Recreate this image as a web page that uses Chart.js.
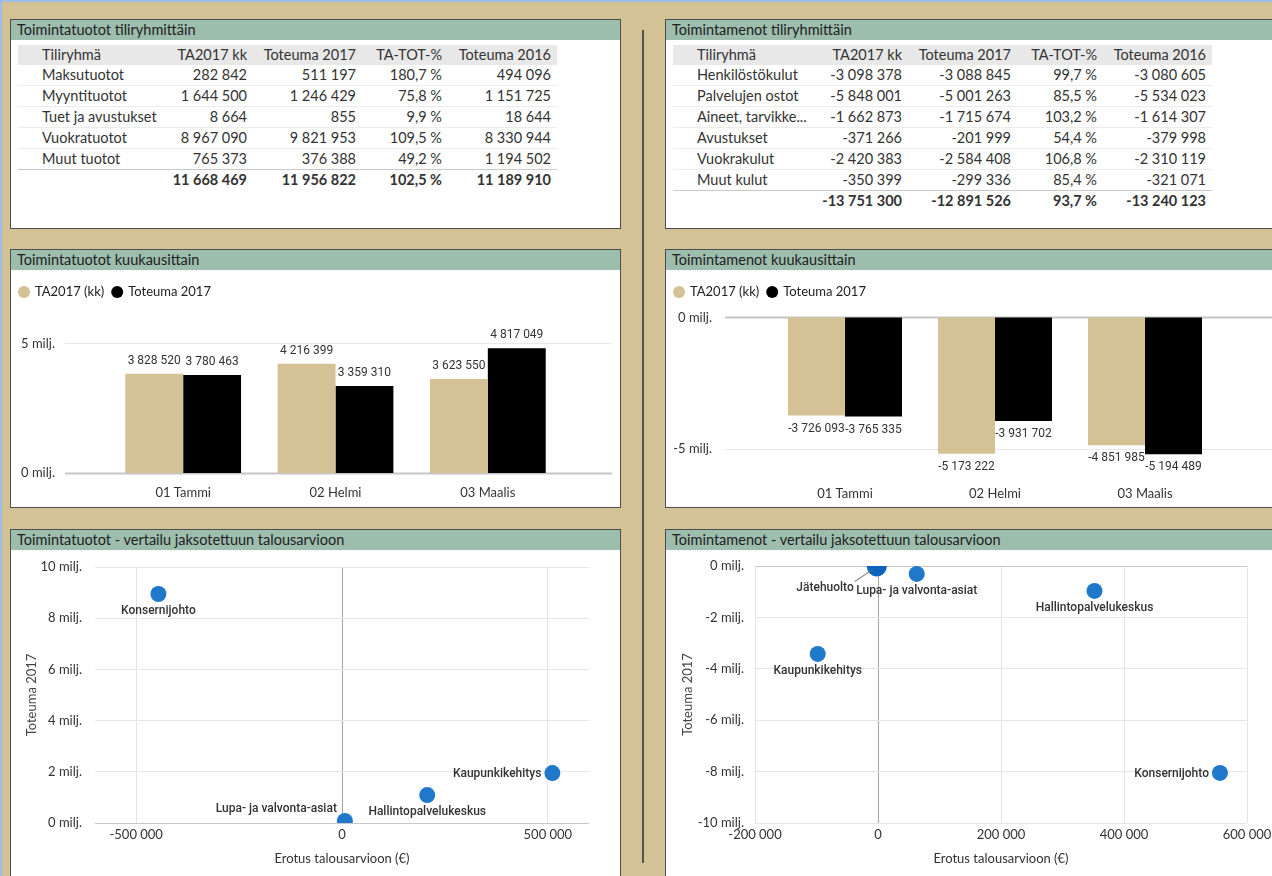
<!DOCTYPE html>
<html lang="fi">
<head>
<meta charset="utf-8">
<title>Toimintatuotot ja -menot</title>
<script src="https://cdn.jsdelivr.net/npm/chart.js@4.4.1/dist/chart.umd.min.js"></script>
<style>
  body { margin: 0; width: 1272px; height: 876px; overflow: hidden; position: relative;
         background: #d4c297; font-family: Lato, "Segoe UI", sans-serif; color: #333; }
  .topline { position: absolute; left: 0; top: 0; width: 1272px; height: 2px; background: #9cbfea; }
  .leftline { position: absolute; left: 0; top: 0; width: 2px; height: 876px; background: #9cbfea; }
  .divider { position: absolute; left: 642px; top: 30px; width: 2px; height: 833px; background: #5b534a; }
  .panel { position: absolute; background: #fff; border: 1px solid #4e4e4e; box-sizing: border-box; }
  .panel .title { height: 20px; line-height: 20px; background: #9dbdad; padding-left: 6px;
                  font-size: 14.5px; color: #222; white-space: nowrap; }
  .panel table { position: absolute; left: 7px; top: 25px; width: 539px; table-layout: fixed;
                 border-collapse: collapse; font-size: 14.5px; }
  .panel td, .panel th { height: 20px; line-height: 20px; padding: 0 6px; white-space: nowrap;
                         overflow: hidden; text-align: right; font-weight: normal; }
  .panel td:first-child, .panel th:first-child { text-align: left; padding-left: 24px; }
  .panel thead tr { background: #e8e8e8; }
  .panel tbody tr { border-bottom: 1px solid #ececec; }
  .panel tbody tr.last { border-bottom: 1px solid #c9c9c9; }
  .panel tfoot td { font-weight: bold; }
  canvas { position: absolute; }
</style>
</head>
<body>
<div class="topline"></div>
<div class="leftline"></div>
<div class="divider"></div>

<div class="panel" style="left:10px; top:19px; width:611px; height:210px;">
  <div class="title">Toimintatuotot tiliryhmittäin</div>
  <table id="tuototTaulu"></table>
</div>
<div class="panel" style="left:665px; top:19px; width:640px; height:210px;">
  <div class="title">Toimintamenot tiliryhmittäin</div>
  <table id="menotTaulu"></table>
</div>
<div class="panel" style="left:10px; top:249px; width:611px; height:259px;">
  <div class="title">Toimintatuotot kuukausittain</div>
</div>
<div class="panel" style="left:665px; top:249px; width:640px; height:259px;">
  <div class="title">Toimintamenot kuukausittain</div>
</div>
<div class="panel" style="left:10px; top:529px; width:611px; height:400px;">
  <div class="title">Toimintatuotot - vertailu jaksotettuun talousarvioon</div>
</div>
<div class="panel" style="left:665px; top:529px; width:640px; height:400px;">
  <div class="title">Toimintamenot - vertailu jaksotettuun talousarvioon</div>
</div>

<canvas id="tuototKk" width="610" height="237" style="left:11px; top:271px;"></canvas>
<canvas id="menotKk" width="606" height="237" style="left:666px; top:271px;"></canvas>
<canvas id="tuototVertailu" width="610" height="325" style="left:11px; top:551px;"></canvas>
<canvas id="menotVertailu" width="606" height="325" style="left:666px; top:551px;"></canvas>

<script>
// Tiliryhmät (taulukot)
const tuototRyhmat = ['Maksutuotot', 'Myyntituotot', 'Tuet ja avustukset', 'Vuokratuotot', 'Muut tuotot'];
const tuototTA = [282842, 1644500, 8664, 8967090, 765373];
const tuototTot17 = [511197, 1246429, 855, 9821953, 376388];
const tuototPros = [180.7, 75.8, 9.9, 109.5, 49.2];
const tuototTot16 = [494096, 1151725, 18644, 8330944, 1194502];
const tuototYht = [11668469, 11956822, 102.5, 11189910];

const menotRyhmat = ['Henkilöstökulut', 'Palvelujen ostot', 'Aineet, tarvikke...', 'Avustukset', 'Vuokrakulut', 'Muut kulut'];
const menotTA = [-3098378, -5848001, -1662873, -371266, -2420383, -350399];
const menotTot17 = [-3088845, -5001263, -1715674, -201999, -2584408, -299336];
const menotPros = [99.7, 85.5, 103.2, 54.4, 106.8, 85.4];
const menotTot16 = [-3080605, -5534023, -1614307, -379998, -2310119, -321071];
const menotYht = [-13751300, -12891526, 93.7, -13240123];

const sarakkeet = ['Tiliryhmä', 'TA2017 kk', 'Toteuma 2017', 'TA-TOT-%', 'Toteuma 2016'];

// Kuukausittain
const kuukaudet = ['01 Tammi', '02 Helmi', '03 Maalis'];
const tuototKkTA = [3828520, 4216399, 3623550];
const tuototKkTot = [3780463, 3359310, 4817049];
const menotKkTA = [-3726093, -5173222, -4851985];
const menotKkTot = [-3765335, -3931702, -5194489];
const tuototKkTicks = [0, 5000000];
const menotKkTicks = [0, -5000000];

// Vertailu jaksotettuun talousarvioon
const tuototYksikot = ['Konsernijohto', 'Kaupunkikehitys', 'Hallintopalvelukeskus', 'Lupa- ja valvonta-asiat'];
const tuototErotus = [-446000, 511000, 207000, 7000];
const tuototToteuma = [8945000, 1950000, 1090000, 80000];
const menotYksikot = ['Jätehuolto', 'Lupa- ja valvonta-asiat', 'Hallintopalvelukeskus', 'Kaupunkikehitys', 'Konsernijohto'];
const menotErotus = [-2000, 63000, 352000, -98000, 556000];
const menotToteuma = [-20000, -310000, -970000, -3420000, -8050000];
const tuototXTicks = [-500000, 0, 500000];
const tuototYTicks = [0, 2000000, 4000000, 6000000, 8000000, 10000000];
const menotXTicks = [-200000, 0, 200000, 400000, 600000];
const menotYTicks = [-10000000, -8000000, -6000000, -4000000, -2000000, 0];

function fmt(v) {
    const s = Math.abs(Math.round(v)).toString().replace(/\B(?=(\d{3})+(?!\d))/g, ' ');
    return (v < 0 ? '-' : '') + s;
}
function fmtPct(v) {
    return v.toFixed(1).replace('.', ',') + ' %';
}
function milj(v) {
    return Math.round(v / 1e6) + ' milj.';
}

// Build the tables
function buildTable(id, ryhmat, ta, tot17, pros, tot16, yht) {
    let html = '<colgroup><col style="width:142px"><col style="width:93px"><col style="width:109px">' +
               '<col style="width:86px"><col style="width:109px"></colgroup>';
    html += '<thead><tr>' + sarakkeet.map(s => `<th>${s}</th>`).join('') + '</tr></thead><tbody>';
    ryhmat.forEach((r, i) => {
        const cls = i === ryhmat.length - 1 ? ' class="last"' : '';
        html += `<tr${cls}><td>${r}</td><td>${fmt(ta[i])}</td><td>${fmt(tot17[i])}</td>` +
                `<td>${fmtPct(pros[i])}</td><td>${fmt(tot16[i])}</td></tr>`;
    });
    html += '</tbody><tfoot><tr><td></td>' +
            `<td>${fmt(yht[0])}</td><td>${fmt(yht[1])}</td><td>${fmtPct(yht[2])}</td><td>${fmt(yht[3])}</td>` +
            '</tr></tfoot>';
    document.getElementById(id).innerHTML = html;
}
buildTable('tuototTaulu', tuototRyhmat, tuototTA, tuototTot17, tuototPros, tuototTot16, tuototYht);
buildTable('menotTaulu', menotRyhmat, menotTA, menotTot17, menotPros, menotTot16, menotYht);

Chart.defaults.font.family = 'Lato, "Segoe UI", sans-serif';
Chart.defaults.font.size = 13;
Chart.defaults.color = '#333';
Chart.defaults.animation = false;

// fixed axis box sizes; drop the label padding chart.js adds at the ends
function fixY(width) {
    return s => { s.width = width; s.paddingTop = 0; s.paddingBottom = 0; };
}
function fixX(height) {
    return s => { s.height = height; s.paddingLeft = 0; s.paddingRight = 0; };
}

// Horizontal gridlines that run wider than the bar area
const wideGrid = {
    id: 'wideGrid',
    beforeDatasetsDraw(chart, args, opts) {
        const y = chart.scales.y;
        const ctx = chart.ctx;
        ctx.save();
        y.ticks.forEach(t => {
            const py = Math.round(y.getPixelForValue(t.value)) + 0.5;
            ctx.strokeStyle = t.value === 0 ? '#c6c6c6' : '#e8e8e8';
            ctx.lineWidth = t.value === 0 ? 2 : 1;
            ctx.beginPath();
            ctx.moveTo(opts.from, py);
            ctx.lineTo(opts.to, py);
            ctx.stroke();
        });
        ctx.restore();
    }
};

// Value labels above / below bars
const barValues = {
    id: 'barValues',
    afterDatasetsDraw(chart) {
        const ctx = chart.ctx;
        ctx.save();
        ctx.font = '12px Roboto';
        ctx.fillStyle = '#333';
        ctx.textAlign = 'center';
        ctx.textBaseline = 'middle';
        chart.data.datasets.forEach((ds, i) => {
            chart.getDatasetMeta(i).data.forEach((bar, j) => {
                const v = ds.data[j];
                ctx.fillText(fmt(v), bar.x, v >= 0 ? bar.y - 13 : bar.y + 13);
            });
        });
        ctx.restore();
    }
};

function barChart(id, ta, tot, ticks, yMin, yMax, cfg) {
    return new Chart(document.getElementById(id), {
        type: 'bar',
        data: {
            labels: kuukaudet,
            datasets: [
                { label: 'TA2017 (kk)', data: ta, backgroundColor: '#d4c296', borderWidth: 0 },
                { label: 'Toteuma 2017', data: tot, backgroundColor: '#000', borderWidth: 0 }
            ]
        },
        options: {
            responsive: false,
            categoryPercentage: 0.76,
            barPercentage: 1,
            layout: { padding: { top: 6, right: cfg.right } },
            plugins: {
                legend: {
                    align: 'start',
                    labels: { usePointStyle: true, pointStyle: 'circle', boxWidth: 9, boxHeight: 8.5,
                              padding: 8.5, font: { size: 13 }, color: '#222' }
                },
                tooltip: { enabled: false },
                wideGrid: { from: cfg.gridFrom, to: cfg.gridTo }
            },
            scales: {
                x: {
                    grid: { display: false, drawTicks: false },
                    border: { display: false },
                    ticks: { padding: cfg.xPad, font: { size: 13 } },
                    afterFit: fixX(cfg.xHeight)
                },
                y: {
                    min: yMin,
                    max: yMax,
                    grid: { display: false, drawTicks: false },
                    border: { display: false },
                    ticks: { padding: cfg.yPad, font: { size: 13 }, callback: v => milj(v) },
                    afterBuildTicks: s => { s.ticks = ticks.map(v => ({ value: v })); },
                    afterFit: fixY(cfg.yWidth)
                }
            }
        },
        plugins: [wideGrid, barValues]
    });
}

barChart('tuototKk', tuototKkTA, tuototKkTot, tuototKkTicks, 0, 6346000,
    { right: 57, gridFrom: 54, gridTo: 601, xPad: 12, xHeight: 35, yPad: 52, yWidth: 96 });
barChart('menotKk', menotKkTA, menotKkTot, menotKkTicks, -5985000, 341000,
    { right: 52, gridFrom: 59, gridTo: 606, xPad: 11, xHeight: 33, yPad: 58, yWidth: 104 });

// Names next to scatter points
const pointNames = {
    id: 'pointNames',
    afterDatasetsDraw(chart, args, opts) {
        const ctx = chart.ctx;
        ctx.save();
        ctx.font = '500 12px Roboto';
        ctx.fillStyle = '#333';
        ctx.textBaseline = 'middle';
        chart.getDatasetMeta(0).data.forEach((pt, i) => {
            const name = opts.names[i];
            const place = opts.place[name] || 'below';
            if (place === 'below') {
                ctx.textAlign = 'center';
                ctx.fillText(name, pt.x, pt.y + 17);
            } else if (place === 'left') {
                ctx.textAlign = 'right';
                ctx.fillText(name, pt.x - 11, pt.y + 1);
            } else if (place === 'leftUp') {
                ctx.textAlign = 'right';
                ctx.fillText(name, pt.x - 8, pt.y - 12);
            } else if (place === 'leader') {
                ctx.strokeStyle = '#666';
                ctx.lineWidth = 1;
                ctx.beginPath();
                ctx.moveTo(pt.x - 22, pt.y + 15);
                ctx.lineTo(pt.x - 4, pt.y + 3);
                ctx.stroke();
                ctx.textAlign = 'right';
                ctx.fillText(name, pt.x - 23, pt.y + 21);
            }
        });
        ctx.restore();
    }
};

function scatterChart(id, names, xs, ys, xTicks, yTicks, cfg) {
    return new Chart(document.getElementById(id), {
        type: 'scatter',
        data: {
            datasets: [{
                data: xs.map((x, i) => ({ x: x, y: ys[i] })),
                backgroundColor: c => names[c.dataIndex] === 'Jätehuolto' ? '#0b63bd' : '#1f78ca',
                borderWidth: 0,
                pointRadius: c => names[c.dataIndex] === 'Jätehuolto' ? 10 : 8,
                clip: 0
            }]
        },
        options: {
            responsive: false,
            layout: { padding: { top: cfg.top, right: cfg.right }, autoPadding: false },
            plugins: {
                legend: { display: false },
                tooltip: { enabled: false },
                pointNames: { names: names, place: cfg.place }
            },
            scales: {
                x: {
                    type: 'linear',
                    min: cfg.xMin,
                    max: cfg.xMax,
                    grid: { drawTicks: false, color: c => c.tick && c.tick.value === 0 ? '#a4a4a4' : '#e4e4e4' },
                    border: { display: false },
                    ticks: { padding: 4, font: { size: 13 }, callback: v => fmt(v) },
                    afterBuildTicks: s => { s.ticks = xTicks.map(v => ({ value: v })); },
                    title: { display: true, text: 'Erotus talousarvioon (€)', font: { size: 13 },
                             color: '#333', padding: { top: 0, bottom: 9 } },
                    afterFit: fixX(53)
                },
                y: {
                    min: cfg.yMin,
                    max: cfg.yMax,
                    grid: { drawTicks: false, color: c => c.tick && c.tick.value === 0 ? '#c8c8c8' : '#e6e6e6' },
                    border: { display: false },
                    ticks: { padding: cfg.yPad, font: { size: 13 }, callback: v => milj(v) },
                    afterBuildTicks: s => { s.ticks = yTicks.map(v => ({ value: v })); },
                    title: { display: true, text: 'Toteuma 2017', font: { size: 13 },
                             color: '#4d3f4d', padding: { top: cfg.titlePad, bottom: 0 } },
                    afterFit: fixY(cfg.yWidth)
                }
            }
        },
        plugins: [pointNames]
    });
}

scatterChart('tuototVertailu', tuototYksikot, tuototErotus, tuototToteuma, tuototXTicks, tuototYTicks, {
    top: 16, right: 32, xMin: -600000, xMax: 600000, yMin: 0, yMax: 10000000,
    yPad: 13, yWidth: 84, titlePad: 13,
    place: { 'Konsernijohto': 'below', 'Kaupunkikehitys': 'left',
             'Hallintopalvelukeskus': 'below', 'Lupa- ja valvonta-asiat': 'leftUp' }
});
scatterChart('menotVertailu', menotYksikot, menotErotus, menotToteuma, menotXTicks, menotYTicks, {
    top: 15, right: 25, xMin: -200000, xMax: 600000, yMin: -10000000, yMax: 0,
    yPad: 11, yWidth: 89, titlePad: 14,
    place: { 'Jätehuolto': 'leader', 'Lupa- ja valvonta-asiat': 'below', 'Hallintopalvelukeskus': 'below',
             'Kaupunkikehitys': 'below', 'Konsernijohto': 'left' }
});
</script>
</body>
</html>
